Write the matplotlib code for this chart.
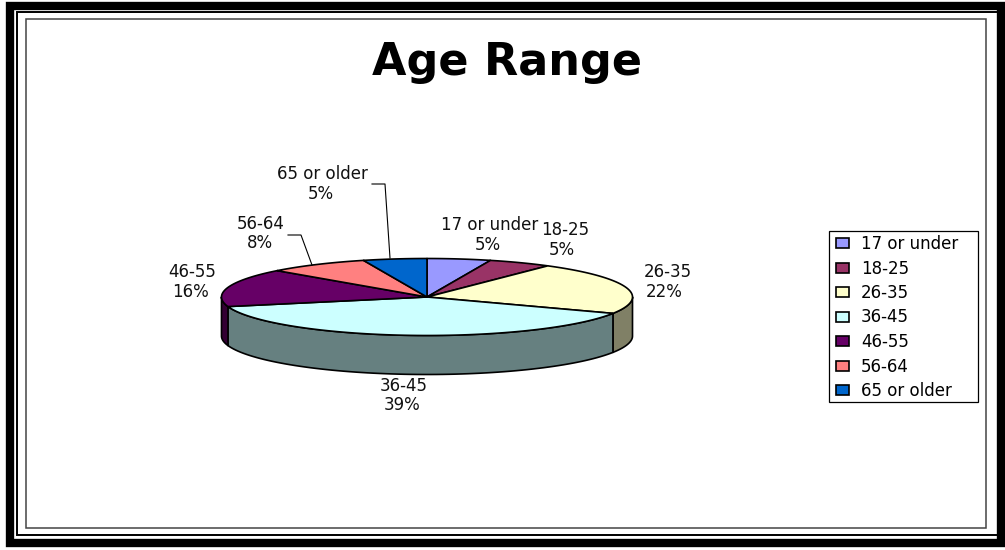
import numpy as np
import matplotlib
matplotlib.use('Agg')
import matplotlib.pyplot as plt
from matplotlib.patches import Rectangle, Patch

plt.rcParams['font.family'] = ['DejaVu Sans']

# data
ages = ['17 or under', '18-25', '26-35', '36-45', '46-55', '56-64', '65 or older']
percent = [5, 5, 22, 39, 16, 8, 5]

top_colors = ['#9999FF', '#993366', '#FFFFCC', '#CCFFFF', '#660066', '#FF8080', '#0066CC']
side_colors = ['#4D4D80', '#4D1A33', '#808066', '#668080', '#330033', '#804040', '#003366']

# label centres in pixels (name line, percent line)
name_pos = [(490, 225), (565, 230), (668, 272), (404, 386), (192, 272), (261, 224), (322, 174)]
pct_pos = [(488, 245), (562, 250), (664, 292), (402, 405), (190, 292), (260, 243), (321, 194)]

cx, cy = 427, 297
rx, ry = 205.5, 38.5
depth = 39

fig = plt.figure(figsize=(10.05, 5.5), dpi=100)
ax = fig.add_axes([0, 0, 1, 1])
ax.set_xlim(0, 1005)
ax.set_ylim(550, 0)
ax.axis('off')

# page frames
ax.add_patch(Rectangle((10, 6), 991, 537, fill=False, ec='black', lw=6, zorder=1))
ax.add_patch(Rectangle((16.5, 11.5), 981.5, 523.5, fill=False, ec='black', lw=1.4, zorder=1))
ax.add_patch(Rectangle((26, 19), 960, 509, fill=False, ec='#444444', lw=1.1, zorder=1))


def arc(a0, a1):
    # angle is clockwise from the top of the ellipse, degrees
    a = np.radians(np.linspace(a0, a1, 80))
    return cx + rx * np.sin(a), cy - ry * np.cos(a)


edges = np.cumsum([0] + percent) * 3.6

# side walls
for i in range(len(percent)):
    a0 = max(edges[i], 90)
    a1 = min(edges[i + 1], 270)
    if a1 <= a0:
        continue
    x, y = arc(a0, a1)
    xs = np.concatenate([x, x[::-1]])
    ys = np.concatenate([y, y[::-1] + depth])
    ax.fill(xs, ys, fc=side_colors[i], ec='black', lw=1.2, joinstyle='round', zorder=2)

# top faces
for i in range(len(percent)):
    x, y = arc(edges[i], edges[i + 1])
    ax.fill(np.r_[cx, x], np.r_[cy, y], fc=top_colors[i], ec='black', lw=1.2, joinstyle='round', zorder=3)

# leader lines
ax.plot([372, 385, 390], [184, 184, 258], color='black', lw=0.8, zorder=4)
ax.plot([288, 301, 312], [235, 235, 265], color='black', lw=0.8, zorder=4)

# labels
for i in range(len(ages)):
    ax.text(name_pos[i][0], name_pos[i][1], ages[i], fontsize=12, ha='center', va='center', color='#111111', zorder=5)
    ax.text(pct_pos[i][0], pct_pos[i][1], '%d%%' % percent[i], fontsize=12, ha='center', va='center', color='#111111', zorder=5)

ax.text(507, 63, 'Age Range', fontsize=32, fontweight='bold', ha='center', va='center', color='black')

# legend box is drawn apart, the legend's own frame can't take a different x and y padding
ax.add_patch(Rectangle((829, 231), 149, 171, fc='white', ec='black', lw=0.9, zorder=5))
handles = [Patch(fc=c, ec='black', lw=1.2) for c in top_colors]
leg = ax.legend(handles, ages, loc='upper left', bbox_to_anchor=(836, 235), bbox_transform=ax.transData,
                borderaxespad=0, fontsize=12, frameon=False,
                handlelength=0.75, handleheight=0.55, handletextpad=0.75,
                labelspacing=0.39, borderpad=0)
leg.set_zorder(6)

fig.savefig('out.png', dpi=100)
